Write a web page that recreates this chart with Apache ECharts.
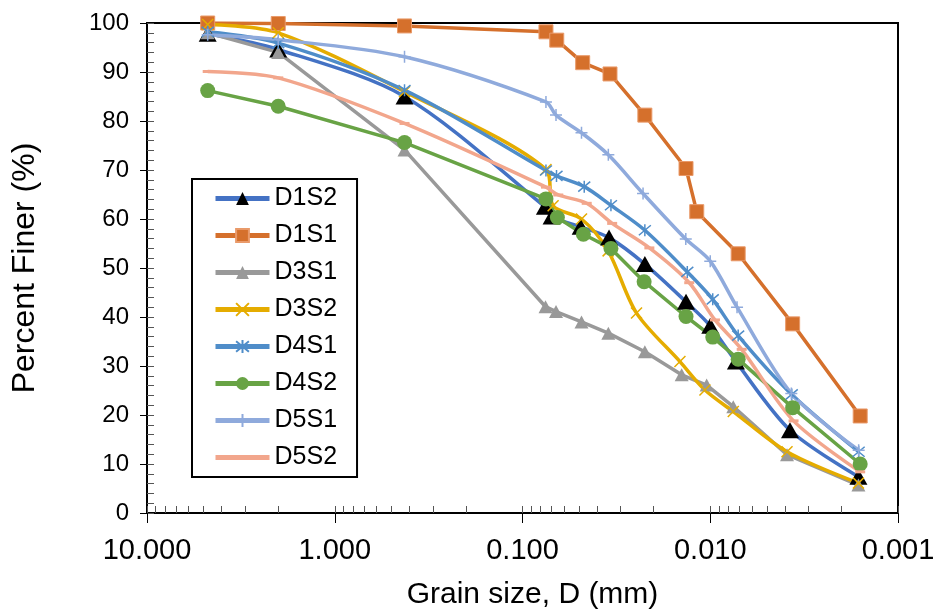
<!DOCTYPE html>
<html><head><meta charset="utf-8">
<script src="https://cdn.jsdelivr.net/npm/echarts@6/dist/echarts.min.js"></script>
<style>html,body{margin:0;padding:0;background:#fff}#c{width:938px;height:611px}</style>
</head><body><div id="c"></div>
<script>
// ---- data (grain size in mm, percent finer) ----
const seriesNames = ['D1S2', 'D1S1', 'D3S1', 'D3S2', 'D4S1', 'D4S2', 'D5S1', 'D5S2'];

const d1s2Size  = [4.75, 2.0, 0.425, 0.076, 0.070, 0.049, 0.0346, 0.0223, 0.01346, 0.0100, 0.0073, 0.00376, 0.001625];
const d1s2Finer = [97.8, 94.6, 85.0, 62.5, 60.5, 58.4, 56.2, 50.8, 43.1, 38.2, 30.9, 16.9, 7.4];

const d1s1Size  = [4.75, 2.0, 0.425, 0.075, 0.0657, 0.0478, 0.0342, 0.0223, 0.01346, 0.0118, 0.0071, 0.00364, 0.00159];
const d1s1Finer = [100.0, 99.9, 99.4, 98.2, 96.5, 91.9, 89.6, 81.2, 70.3, 61.5, 52.9, 38.6, 19.8];

const d3s1Size  = [4.75, 2.0, 0.425, 0.0754, 0.0663, 0.0485, 0.0349, 0.0223, 0.0142, 0.01045, 0.00754, 0.0039, 0.001625];
const d3s1Finer = [98.0, 94.0, 74.1, 42.1, 41.1, 39.0, 36.7, 32.9, 28.2, 26.1, 21.7, 11.9, 5.7];

const d3s2Size  = [4.75, 2.0, 0.425, 0.075, 0.0687, 0.0485, 0.035, 0.0247, 0.0145, 0.01067, 0.00754, 0.0039, 0.001625];
const d3s2Finer = [99.7, 98.0, 86.0, 70.1, 62.7, 60.0, 53.5, 40.8, 30.9, 25.1, 20.7, 12.5, 6.1];

const d4s1Size  = [4.75, 2.0, 0.425, 0.075, 0.0659, 0.0469, 0.0338, 0.0223, 0.01325, 0.0097, 0.0071, 0.00368, 0.00162];
const d4s1Finer = [98.2, 95.9, 86.3, 69.9, 68.8, 66.6, 62.8, 57.7, 49.2, 43.6, 36.2, 24.2, 12.5];

const d4s2Size  = [4.75, 2.0, 0.425, 0.075, 0.0652, 0.0474, 0.0338, 0.0225, 0.01346, 0.0097, 0.0071, 0.00364, 0.00159];
const d4s2Finer = [86.2, 83.0, 75.6, 64.1, 60.3, 56.9, 54.0, 47.2, 40.1, 35.9, 31.4, 21.5, 10.0];

const d5s1Size  = [4.75, 2.0, 0.425, 0.075, 0.0663, 0.0485, 0.0349, 0.0228, 0.0135, 0.0100, 0.0072, 0.0037, 0.00162];
const d5s1Finer = [97.6, 96.6, 93.1, 83.9, 81.2, 77.6, 73.1, 65.2, 55.9, 51.4, 42.0, 24.4, 12.8];

const d5s2Size  = [4.75, 2.0, 0.425, 0.075, 0.0645, 0.0455, 0.0333, 0.0211, 0.01294, 0.00944, 0.0068, 0.0036, 0.00159];
const d5s2Finer = [90.1, 88.8, 79.5, 66.5, 64.9, 63.2, 59.1, 54.1, 47.0, 39.4, 33.4, 18.8, 8.4];

const xTickValues = [10, 1, 0.1, 0.01, 0.001];
const xTickLabels = ['10.000', '1.000', '0.100', '0.010', '0.001'];
const xMinorMultipliers = [2, 3, 4, 5, 6, 7, 8, 9];

// ---- build ----
const FONT = 'Liberation Sans, Arial, sans-serif';
const pair = (xs, ys) => xs.map((x, i) => [x, ys[i]]);

const minorLog = [];
[0.001, 0.01, 0.1, 1].forEach(dec => {
  minorLog.push(Math.log10(dec));
  xMinorMultipliers.forEach(m => minorLog.push(Math.log10(dec * m)));
});
minorLog.push(1);

const P_X = 'path://M0,0L10,10M10,0L0,10';
const P_STAR = 'path://M0,0L10,10M10,0L0,10M5,-1L5,11';
const P_PLUS = 'path://M5,0L5,10M0,5L10,5';
const P_DASH = 'path://M0,0L10,0L10,2.5L0,2.5Z';
const P_LEGEND_LINE = 'path://M0,0L54,0L54,5L0,5Z';

function mk(name, xs, ys, color, symbol, size, markerStyle, smooth) {
  return {
    name, type: 'line', xAxisIndex: 0, yAxisIndex: 0,
    data: pair(xs, ys),
    smooth: smooth,
    symbol, symbolSize: size,
    showAllSymbol: true,
    lineStyle: { color, width: 3.5 },
    itemStyle: markerStyle,
    emphasis: { disabled: true },
    animation: false
  };
}

const series = [
  mk('D1S2', d1s2Size, d1s2Finer, '#4472C4', 'triangle', [18, 16], { color: '#000', borderColor: '#000', borderWidth: 0 }, 0.3),
  mk('D1S1', d1s1Size, d1s1Finer, '#D5702C', 'rect', 14, { color: '#D5702C', borderColor: '#E99A6A', borderWidth: 1 }, false),
  mk('D3S1', d3s1Size, d3s1Finer, '#999999', 'triangle', [14, 13], { color: '#999999', borderColor: '#999999', borderWidth: 0 }, false),
  mk('D3S2', d3s2Size, d3s2Finer, '#E5AC00', P_X, 11, { color: '#E5AC00', borderColor: '#E5AC00', borderWidth: 1.5 }, 0.3),
  mk('D4S1', d4s1Size, d4s1Finer, '#4F8DC9', P_STAR, 12, { color: '#4F8DC9', borderColor: '#4F8DC9', borderWidth: 1.5 }, 0.3),
  mk('D4S2', d4s2Size, d4s2Finer, '#68A345', 'circle', 15, { color: '#68A345', borderColor: '#68A345', borderWidth: 0 }, false),
  mk('D5S1', d5s1Size, d5s1Finer, '#8FAADC', P_PLUS, 12, { color: '#8FAADC', borderColor: '#8FAADC', borderWidth: 1.5 }, 0.3),
  mk('D5S2', d5s2Size, d5s2Finer, '#F2A68C', P_DASH, [10, 3], { color: '#F2A68C', borderColor: '#F2A68C', borderWidth: 0 }, 0.3)
];

const legendData = seriesNames.map(n => n === 'D5S2' ? { name: n, icon: P_LEGEND_LINE, itemStyle: { color: '#F2A68C' } } : { name: n });

const option = {
  backgroundColor: '#fff',
  animation: false,
  textStyle: { fontFamily: FONT },
  grid: { left: 147, right: 40, top: 23, bottom: 98, show: true, borderColor: '#000', borderWidth: 2,
          containLabel: false, outerBoundsMode: 'none' },
  xAxis: [
    {
      type: 'log', logBase: 10, min: 0.001, max: 10, inverse: true,
      name: 'Grain size, D (mm)', nameLocation: 'middle', nameGap: 67,
      nameTextStyle: { fontSize: 30, color: '#000', fontFamily: FONT, padding: [0, 0, 0, 20] },
      axisLine: { show: true, onZero: false, lineStyle: { color: '#000', width: 2 } },
      axisTick: { show: true, inside: false, length: 10, lineStyle: { color: '#000', width: 1 } },
      axisLabel: { show: true, margin: 23, fontSize: 29, color: '#000', fontFamily: FONT,
        formatter: v => { const i = xTickValues.findIndex(t => Math.abs(Math.log10(t) - Math.log10(v)) < 1e-6); return i >= 0 ? xTickLabels[i] : ''; } },
      splitLine: { show: false }
    },
    {
      type: 'value', min: -3, max: 1, inverse: true, position: 'bottom',
      axisLine: { show: false, onZero: false },
      axisLabel: { show: false },
      axisTick: { show: true, inside: true, length: 7, customValues: minorLog, lineStyle: { color: '#555', width: 1 } },
      splitLine: { show: false }
    }
  ],
  yAxis: [
    {
      type: 'value', min: 0, max: 100, interval: 10,
      name: 'Percent Finer (%)', nameLocation: 'middle', nameGap: 106, nameRotate: 90,
      nameTextStyle: { fontSize: 32, color: '#000', fontFamily: FONT },
      axisLine: { show: true, onZero: false, lineStyle: { color: '#000', width: 2 } },
      axisTick: { show: true, inside: false, length: 7, lineStyle: { color: '#000', width: 1 } },
      axisLabel: { show: true, margin: 18, fontSize: 24, color: '#000', fontFamily: FONT },
      splitLine: { show: false }
    },
    {
      type: 'value', min: 0, max: 100, interval: 2, position: 'left',
      axisLine: { show: false, onZero: false },
      axisLabel: { show: false },
      axisTick: { show: true, inside: true, length: 7, lineStyle: { color: '#555', width: 1 } },
      splitLine: { show: false }
    }
  ],
  legend: {
    data: legendData,
    orient: 'vertical', left: 192, top: 179,
    padding: [7, 20, 7, 21],
    itemWidth: 54, itemHeight: 16, itemGap: 12,
    lineStyle: { width: 5 },
    textStyle: { fontSize: 25, lineHeight: 25, color: '#000', fontFamily: FONT },
    borderColor: '#000', borderWidth: 2, backgroundColor: '#fff',
    selectedMode: false
  },
  series
};

const chart = echarts.init(document.getElementById('c'), null, { renderer: 'canvas' });
chart.setOption(option);
</script></body></html>
